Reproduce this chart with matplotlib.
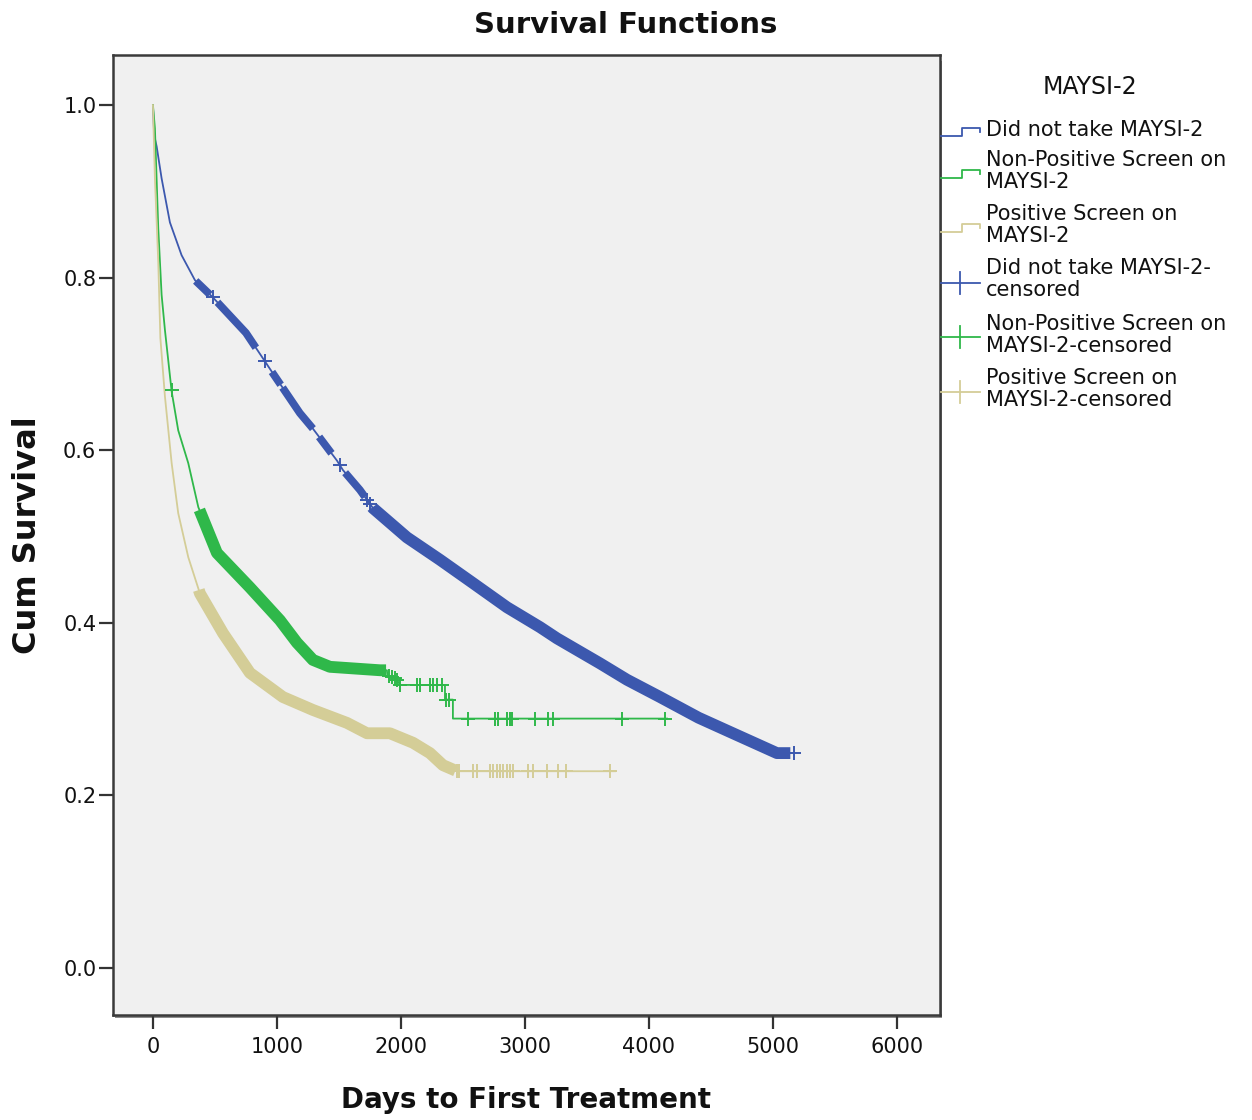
import matplotlib
matplotlib.use('Agg')
import matplotlib.pyplot as plt
import numpy as np
from matplotlib.lines import Line2D
from matplotlib.patches import Rectangle

# ---------------- data ----------------
blue_t = [0, 10, 30, 70, 137, 231, 339, 484, 750, 968, 1185, 1290, 1484, 1532, 1669,
          1774, 2048, 2315, 2581, 2855, 3121, 3258, 3605, 3823, 4089, 4400, 4677,
          5032, 5170]
blue_s = [1.0, 0.965, 0.952, 0.915, 0.864, 0.826, 0.797, 0.777, 0.736, 0.689, 0.643,
          0.625, 0.588, 0.577, 0.554, 0.533, 0.499, 0.473, 0.446, 0.418, 0.395, 0.382,
          0.353, 0.334, 0.314, 0.290, 0.272, 0.249, 0.249]
blue_dense = [(345, 460), (520, 830), (960, 1030), (1045, 1290), (1340, 1440),
              (1550, 1710), (1770, 5140)]
blue_cens = [484, 900, 1508, 1730, 1750, 5170]

green_t = [0, 16, 43, 70, 97, 151, 204, 285, 366, 516, 782, 1024, 1161, 1290, 1427,
           1831, 1887, 1890, 1960, 1992, 2355, 2355, 2419, 2419, 4145]
green_s = [1.0, 0.973, 0.857, 0.780, 0.739, 0.668, 0.623, 0.585, 0.534, 0.481, 0.441,
           0.403, 0.377, 0.357, 0.349, 0.345, 0.345, 0.339, 0.336, 0.328, 0.328,
           0.311, 0.311, 0.289, 0.289]
green_dense = [(375, 1880)]
green_cens = [150, 1900, 1925, 1950, 1968, 1990, 2129, 2153, 2234, 2258, 2290, 2331,
              2365, 2390, 2540, 2758, 2782, 2855, 2879, 2895, 3081, 3185, 3226, 3782,
              4129]

tan_t = [0, 16, 43, 60, 97, 151, 204, 285, 379, 565, 782, 1048, 1290, 1565, 1726,
         1911, 2097, 2234, 2339, 2452, 3726]
tan_s = [1.0, 0.915, 0.818, 0.730, 0.662, 0.585, 0.527, 0.476, 0.434, 0.388, 0.342,
         0.314, 0.299, 0.284, 0.272, 0.272, 0.261, 0.249, 0.235, 0.228, 0.228]
tan_dense = [(370, 2440)]
tan_cens = [2452, 2470, 2581, 2613, 2718, 2742, 2774, 2798, 2823, 2855, 2879, 2903,
            3024, 3065, 3177, 3266, 3331, 3685]

x_ticks = [0, 1000, 2000, 3000, 4000, 5000, 6000]
y_ticks = [0.0, 0.2, 0.4, 0.6, 0.8, 1.0]
y_ticklabels = ['0.0', '0.2', '0.4', '0.6', '0.8', '1.0']

legend_title = 'MAYSI-2'
legend_labels = ['Did not take MAYSI-2',
                 'Non-Positive Screen on\nMAYSI-2',
                 'Positive Screen on\nMAYSI-2',
                 'Did not take MAYSI-2-\ncensored',
                 'Non-Positive Screen on\nMAYSI-2-censored',
                 'Positive Screen on\nMAYSI-2-censored']

# ---------------- style ----------------
BLUE = '#3c58ae'
GREEN = '#2fb84a'
TAN = '#d4cd97'
W, H = 1252, 1120


def fx(x):
    return x / W


def fy(y):
    return 1 - y / H


def curve_at(t, s, x):
    t = np.asarray(t, float)
    s = np.asarray(s, float)
    i = np.searchsorted(t, x, side='right') - 1
    i = min(max(i, 0), len(t) - 1)
    if i == len(t) - 1 or t[i + 1] == t[i]:
        return s[i]
    return s[i] + (s[i + 1] - s[i]) * (x - t[i]) / (t[i + 1] - t[i])


def band(ax, t, s, t0, t1, color, lw):
    pts_t = [t0] + [v for v in t if t0 < v < t1] + [t1]
    pts_s = [curve_at(t, s, v) for v in pts_t]
    ax.plot(pts_t, pts_s, color=color, lw=lw, solid_capstyle='butt',
            solid_joinstyle='round', zorder=3)


fig = plt.figure(figsize=(W / 100, H / 100), dpi=100)
ax = fig.add_axes([fx(113), fy(1015), (940 - 113) / W, (1015 - 55) / H])

# shadow of the frame
fig.add_artist(Rectangle((fx(115), fy(1018)), (940 - 113) / W, (1015 - 58) / H,
                         transform=fig.transFigure, facecolor='#8c8c8c',
                         edgecolor='none', zorder=-5))

ax.set_facecolor('#f0f0f0')
ax.set_xlim(-322, 6347)
ax.set_ylim(-0.0545, 1.058)

for t, s, c, dense, cens in [(blue_t, blue_s, BLUE, blue_dense, blue_cens),
                             (green_t, green_s, GREEN, green_dense, green_cens),
                             (tan_t, tan_s, TAN, tan_dense, tan_cens)]:
    ax.plot(t, s, color=c, lw=1.3, zorder=2)
    for (a, b) in dense:
        lw = 8.5 if (b - a) > 1000 else 5.5
        band(ax, t, s, a, b, c, lw)
    ax.plot(cens, [curve_at(t, s, v) for v in cens], ls='none', marker='+',
            ms=10, mew=1.4, color=c, zorder=3)

for sp in ax.spines.values():
    sp.set_color('#3a3a3a')
    sp.set_linewidth(1.8)

ax.set_xticks(x_ticks)
ax.set_yticks(y_ticks)
ax.set_yticklabels(y_ticklabels)
ax.tick_params(axis='both', length=10, width=1.6, color='#333333',
               labelsize=15, labelcolor='#111111')
ax.tick_params(axis='x', pad=6)
ax.tick_params(axis='y', pad=2)

fig.text(0.5, fy(25), 'Survival Functions', ha='center', va='center',
         fontsize=21, fontweight='bold', color='#111111')
fig.text(fx(526), fy(1100), 'Days to First Treatment', ha='center', va='center',
         fontsize=20, fontweight='bold', color='#111111')
fig.text(fx(28), fy(535), 'Cum Survival', ha='center', va='center', rotation=90,
         fontsize=23, fontweight='bold', color='#111111')

# ---------------- legend (drawn outside the axes) ----------------
fig.text(fx(1090), fy(87), legend_title, ha='center', va='center', fontsize=17,
         color='#111111')
colors = [BLUE, GREEN, TAN, BLUE, GREEN, TAN]
label_top = [131, 161, 215, 269, 325, 379]
handle_y = [132, 174, 228, 283, 337, 392]
for k, (lab, c, ly, hy) in enumerate(zip(legend_labels, colors, label_top, handle_y)):
    fig.text(fx(986), fy(ly - 11), lab, ha='left', va='top', fontsize=15,
             color='#111111', linespacing=1.15)
    if k < 3:
        xs = [941, 962, 962, 980, 980]
        ys = [hy + 4, hy + 4, hy - 4, hy - 4, hy]
        fig.add_artist(Line2D([fx(v) for v in xs], [fy(v) for v in ys],
                              color=c, lw=1.3, transform=fig.transFigure))
    else:
        fig.add_artist(Line2D([fx(941), fx(980)], [fy(hy), fy(hy)], color=c, lw=1.3,
                              transform=fig.transFigure))
        fig.add_artist(Line2D([fx(960), fx(960)], [fy(hy - 11), fy(hy + 11)], color=c,
                              lw=1.3, transform=fig.transFigure))

fig.savefig('out.png', dpi=100, facecolor='white')
